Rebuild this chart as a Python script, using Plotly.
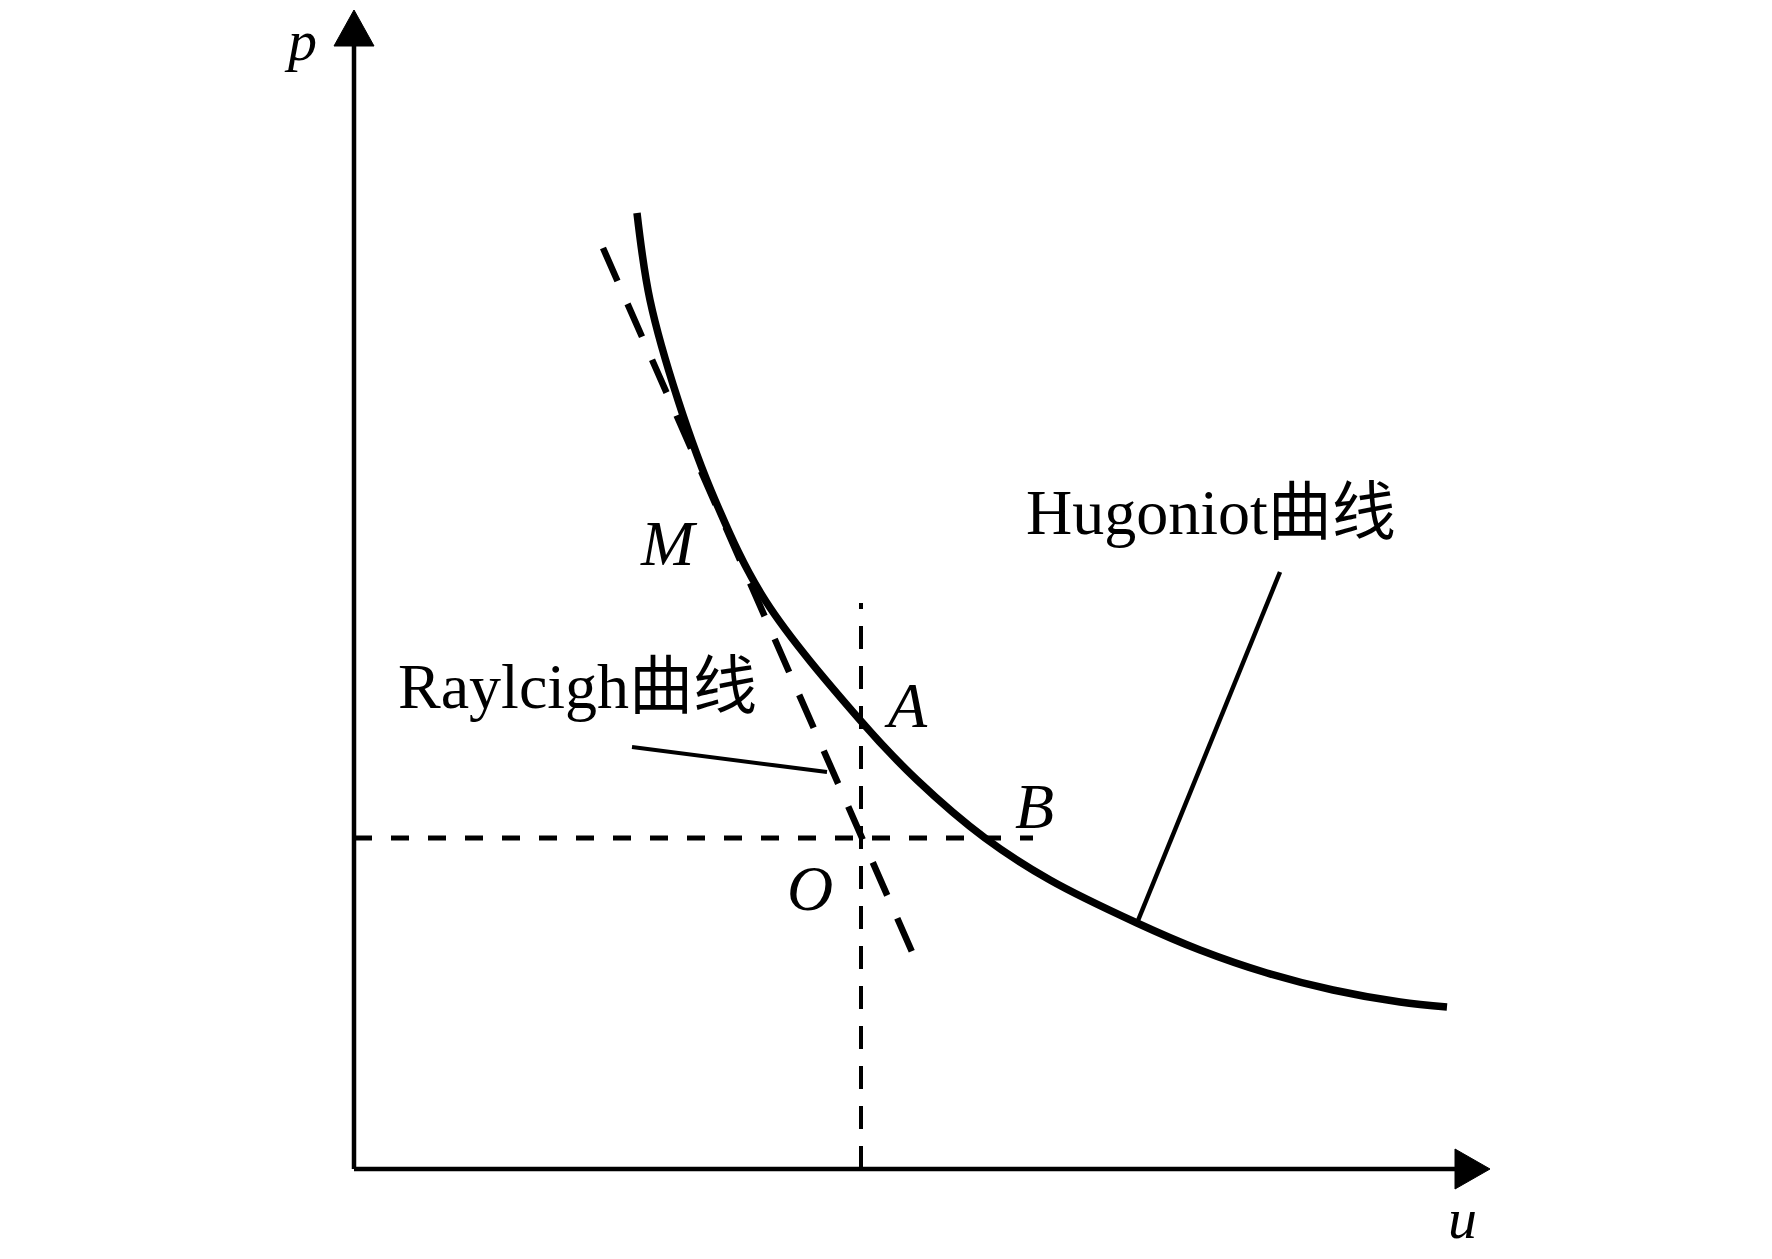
import plotly.graph_objects as go

# Hugoniot curve (u, p)
hug_u = [2.83, 2.96, 3.24, 3.61, 4.11, 5.06, 5.63, 6.31, 6.96, 7.83, 8.46, 9.13, 9.79, 10.46, 10.93]
hug_p = [9.56, 8.69, 7.69, 6.69, 5.69, 4.49, 3.89, 3.31, 2.89, 2.46, 2.19, 1.96, 1.79, 1.67, 1.62]

# Rayleigh line (straight, dashed)
ray_u = [2.49, 5.66]
ray_p = [9.21, 1.99]

# Reference point O
o_u = 5.07
o_p = 3.31
h_end_u = 6.79   # end of horizontal dashed line
v_end_p = 5.66   # end of vertical dashed line

# Leader lines
ray_leader_u = [2.78, 4.73]
ray_leader_p = [4.22, 3.97]
hug_leader_u = [9.26, 7.83]
hug_leader_p = [5.97, 2.46]

# Axis extents
x_axis_end = 11.01
x_arrow_tip = 11.36
y_axis_end = 11.23
y_arrow_tip = 11.59
arrow_half = 0.20

# Labels: (text, u, p, italic, size)
labels = [
    ("M", 3.15, 6.26, True, 64),
    ("A", 5.52, 4.64, True, 64),
    ("B", 6.80, 3.63, True, 64),
    ("O", 4.56, 2.81, True, 64),
    ("p", -0.54, 11.29, True, 58),
    ("u", 11.08, -0.49, True, 58),
    ("Hugoniot曲线", 8.57, 6.57, False, 64),
    ("Raylcigh曲线", 2.23, 4.83, False, 64),
]

BLACK = "#000000"
FONT = "Liberation Serif, Times New Roman, Noto Sans CJK SC, serif"

fig = go.Figure()

def line(xs, ys, width, dash="solid", shape="linear", smoothing=1.0):
    fig.add_trace(go.Scatter(
        x=xs, y=ys, mode="lines",
        line=dict(color=BLACK, width=width, dash=dash, shape=shape, smoothing=smoothing),
        hoverinfo="skip", showlegend=False))

# axes
line([0, x_axis_end], [0, 0], 4.5)
line([0, 0], [0, y_axis_end], 4.5)
# arrow heads
fig.add_trace(go.Scatter(
    x=[x_axis_end, x_arrow_tip, x_axis_end, x_axis_end],
    y=[arrow_half, 0, -arrow_half, arrow_half],
    mode="lines", fill="toself", fillcolor=BLACK,
    line=dict(color=BLACK, width=1), hoverinfo="skip", showlegend=False))
fig.add_trace(go.Scatter(
    x=[-arrow_half, 0, arrow_half, -arrow_half],
    y=[y_axis_end, y_arrow_tip, y_axis_end, y_axis_end],
    mode="lines", fill="toself", fillcolor=BLACK,
    line=dict(color=BLACK, width=1), hoverinfo="skip", showlegend=False))

# dashed reference lines through O
line([0, h_end_u], [o_p, o_p], 5, dash="18px,19px")
line([o_u, o_u], [0, v_end_p], 4, dash="23px,17px")

# Rayleigh line
line(ray_u, ray_p, 6.5, dash="36px,25px")

# Hugoniot curve
line(hug_u, hug_p, 7.5, shape="spline", smoothing=1.0)

# leaders
line(ray_leader_u, ray_leader_p, 4)
line(hug_leader_u, hug_leader_p, 4.5)

for text, u, p, italic, size in labels:
    fig.add_annotation(
        x=u, y=p, text=f"<i>{text}</i>" if italic else text,
        showarrow=False, xanchor="center", yanchor="middle",
        font=dict(family=FONT, size=size, color=BLACK))

# page body has an 8px margin: the figure starts at (8, 8)
fig.update_layout(
    width=1756, height=1243,
    margin=dict(l=0, r=0, t=0, b=0),
    paper_bgcolor="white", plot_bgcolor="white",
    xaxis=dict(range=[-3.46, 14.10], visible=False, fixedrange=True),
    yaxis=dict(range=[-0.82, 11.61], visible=False, fixedrange=True),
    showlegend=False,
)

fig.write_html("out.html")
